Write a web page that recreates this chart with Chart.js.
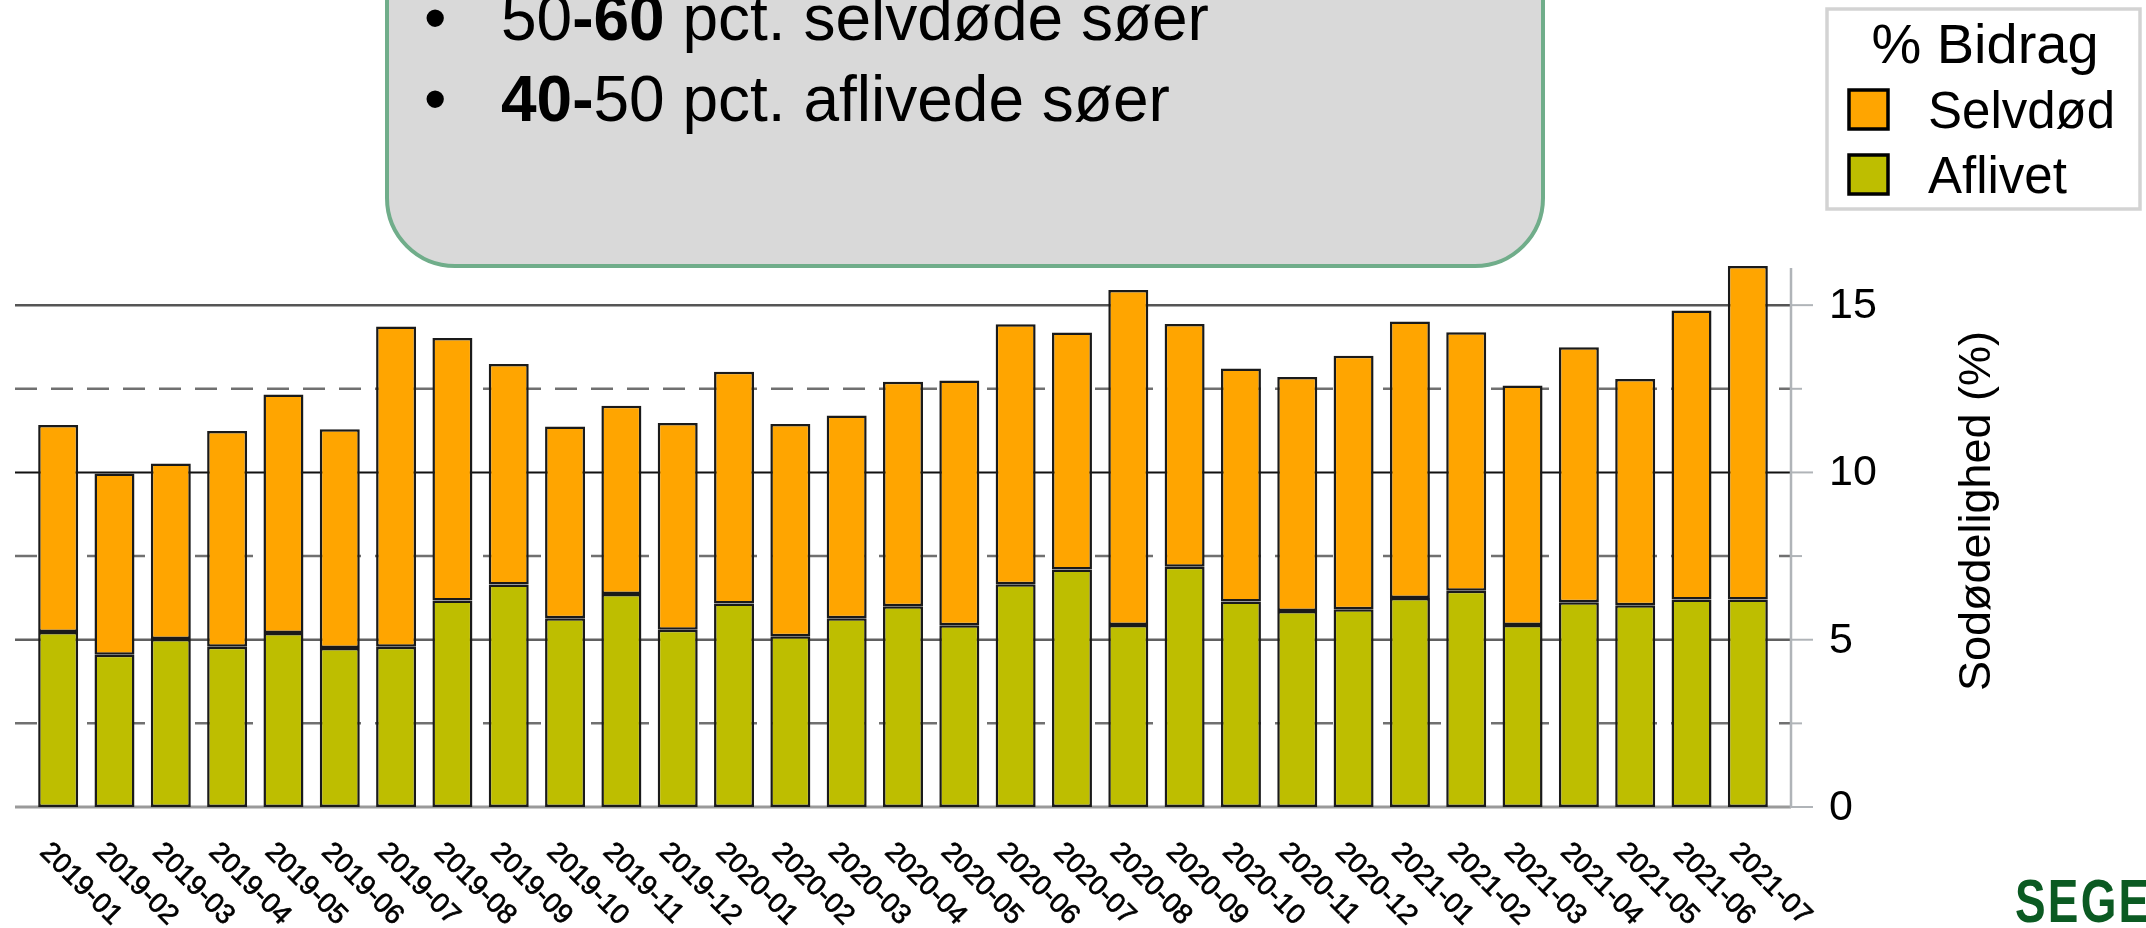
<!DOCTYPE html>
<html>
<head>
<meta charset="utf-8">
<script src="https://cdn.jsdelivr.net/npm/chart.js@4.4.0/dist/chart.umd.min.js"></script>
<style>
  html, body { margin: 0; padding: 0; background: #ffffff; overflow: hidden; }
  canvas { display: block; }
</style>
</head>
<body>
<canvas id="c" width="2146" height="928"></canvas>
<script>
// ---- data ----
const months = ["2019-01","2019-02","2019-03","2019-04","2019-05","2019-06","2019-07","2019-08","2019-09","2019-10","2019-11","2019-12",
                "2020-01","2020-02","2020-03","2020-04","2020-05","2020-06","2020-07","2020-08","2020-09","2020-10","2020-11","2020-12",
                "2021-01","2021-02","2021-03","2021-04","2021-05","2021-06","2021-07"];
// bottom segment (Aflivet), % points
const aflivet = [5.23,4.55,5.02,4.79,5.20,4.75,4.79,6.17,6.65,5.64,6.37,5.30,
                 6.08,5.10,5.64,6.00,5.43,6.66,7.10,5.44,7.18,6.14,5.86,5.91,
                 6.25,6.46,5.44,6.12,6.03,6.20,6.20];
// top segment (Selvdød), % points
const selvdod = [6.19,5.42,5.25,6.45,7.13,6.54,9.57,7.85,6.59,5.73,5.62,6.18,
                 6.93,6.35,6.06,6.71,7.32,7.77,7.08,10.01,7.26,6.97,6.99,7.58,
                 8.26,7.73,7.16,7.62,6.76,8.64,9.97];
const yTicks = [0, 5, 10, 15];
const yMinorTicks = [2.5, 7.5, 12.5];
const yTitle = "Sodødelighed (%)";
const legendTitle = "% Bidrag";
const legendItems = ["Selvdød", "Aflivet"];

const ORANGE = "#ffa500";
const OLIVE = "#bebe00";
const FONT = "'Liberation Sans', Arial, sans-serif";

const GRID_LEFT = 15;
const AXIS_X = 1791;

const decorPlugin = {
  id: "decor",
  beforeDatasetsDraw(chart) {
    const ctx = chart.ctx, y = chart.scales.y;
    ctx.save();
    const lines = [
      {v: 15, dash: [], color: "#555555", w: 2.5},
      {v: 12.5, dash: [22, 14], color: "#707070", w: 2.5},
      {v: 10, dash: [], color: "#111111", w: 2},
      {v: 7.5, dash: [22, 14], color: "#707070", w: 2.5},
      {v: 5, dash: [], color: "#606060", w: 2.5},
      {v: 2.5, dash: [22, 14], color: "#707070", w: 2.5}
    ];
    for (const l of lines) {
      const py = y.getPixelForValue(l.v);
      ctx.beginPath();
      ctx.setLineDash(l.dash);
      ctx.strokeStyle = l.color;
      ctx.lineWidth = l.w;
      ctx.moveTo(GRID_LEFT, py);
      ctx.lineTo(AXIS_X, py);
      ctx.stroke();
    }
    ctx.setLineDash([]);
    const p0 = y.getPixelForValue(0);
    ctx.beginPath();
    ctx.strokeStyle = "#9a9a9a";
    ctx.lineWidth = 3;
    ctx.moveTo(GRID_LEFT, p0);
    ctx.lineTo(AXIS_X, p0);
    ctx.stroke();
    ctx.restore();
  },
  afterDatasetsDraw(chart) {
    const ctx = chart.ctx, y = chart.scales.y, x = chart.scales.x;
    ctx.save();
    // right axis line and ticks
    ctx.strokeStyle = "#b0b4b8";
    ctx.lineWidth = 2.5;
    ctx.beginPath();
    ctx.moveTo(AXIS_X, 268);
    ctx.lineTo(AXIS_X, y.getPixelForValue(0) + 1);
    ctx.stroke();
    ctx.lineWidth = 2;
    for (const t of yTicks) {
      const py = y.getPixelForValue(t);
      ctx.beginPath(); ctx.moveTo(AXIS_X, py); ctx.lineTo(1813, py); ctx.stroke();
    }
    for (const t of yMinorTicks) {
      const py = y.getPixelForValue(t);
      ctx.beginPath(); ctx.moveTo(AXIS_X, py); ctx.lineTo(1802, py); ctx.stroke();
    }
    ctx.fillStyle = "#000";
    ctx.font = "43px " + FONT;
    ctx.textAlign = "left";
    ctx.textBaseline = "middle";
    for (const t of yTicks) {
      ctx.fillText(String(t), 1829, y.getPixelForValue(t) + 1);
    }
    // axis title
    ctx.save();
    ctx.translate(1978, 511);
    ctx.rotate(-Math.PI / 2);
    ctx.font = "45px " + FONT;
    ctx.textAlign = "center";
    ctx.textBaseline = "middle";
    ctx.fillText(yTitle, 0, 0);
    ctx.restore();
    // x labels rotated clockwise
    ctx.font = "28px " + FONT;
    ctx.textAlign = "left";
    ctx.textBaseline = "top";
    ctx.strokeStyle = "#000";
    ctx.lineWidth = 0.7;
    months.forEach((m, i) => {
      const px = x.getPixelForTick(i);
      ctx.save();
      ctx.translate(px - 4, 838);
      ctx.rotate(Math.PI / 4);
      ctx.fillText(m, 0, 0);
      ctx.strokeText(m, 0, 0);
      ctx.restore();
    });

    // ---- annotation box ----
    ctx.beginPath();
    ctx.roundRect(387, -200, 1156, 466, 68);
    ctx.fillStyle = "#d9d9d9";
    ctx.fill();
    ctx.strokeStyle = "#70ad8a";
    ctx.lineWidth = 4;
    ctx.stroke();
    const drawRuns = (runs, x0, by) => {
      let cx = x0;
      for (const r of runs) {
        ctx.font = (r.b ? "bold " : "") + "64px " + FONT;
        ctx.fillText(r.t, cx, by);
        cx += ctx.measureText(r.t).width;
      }
    };
    ctx.fillStyle = "#000";
    ctx.textBaseline = "alphabetic";
    ctx.textAlign = "left";
    ctx.font = "64px " + FONT;
    ctx.fillText("\u2022", 424, 40);
    ctx.fillText("\u2022", 424, 121);
    drawRuns([{t: "50"}, {t: "-60", b: true}, {t: " pct. selvdøde søer"}], 501, 40);
    drawRuns([{t: "40-", b: true}, {t: "50 pct. aflivede søer"}], 501, 121);

    // ---- legend ----
    ctx.strokeStyle = "#d3d3d3";
    ctx.lineWidth = 3.5;
    ctx.strokeRect(1827, 9, 313, 200);
    ctx.fillStyle = "#000";
    ctx.font = "56px " + FONT;
    ctx.textAlign = "center";
    ctx.fillText(legendTitle, 1985, 63);
    const sw = [ORANGE, OLIVE];
    const sy = [90, 155];
    const by = [128, 193];
    ctx.textAlign = "left";
    ctx.font = "51px " + FONT;
    for (let i = 0; i < 2; i++) {
      ctx.fillStyle = sw[i];
      ctx.fillRect(1849, sy[i], 39, 39);
      ctx.strokeStyle = "#000";
      ctx.lineWidth = 3.5;
      ctx.strokeRect(1849, sy[i], 39, 39);
      ctx.fillStyle = "#000";
      ctx.fillText(legendItems[i], 1928, by[i]);
    }

    // ---- logo text (cut at right edge) ----
    ctx.save();
    ctx.translate(2015, 922);
    ctx.scale(0.74, 1);
    ctx.letterSpacing = "3px";
    ctx.fillStyle = "#0b5a22";
    ctx.font = "bold 62px " + FONT;
    ctx.fillText("SEGES", 0, 0);
    ctx.restore();

    ctx.restore();
  }
};

new Chart(document.getElementById("c"), {
  type: "bar",
  data: {
    labels: months,
    datasets: [
      {label: "Aflivet", data: aflivet, backgroundColor: OLIVE, borderColor: "#1a1a1a", borderWidth: 2.5, borderSkipped: false, stack: "s"},
      {label: "Selvdød", data: selvdod, backgroundColor: ORANGE, borderColor: "#1a1a1a", borderWidth: 2.5, borderSkipped: false, stack: "s"}
    ]
  },
  options: {
    responsive: false,
    animation: false,
    layout: {padding: {left: 30, right: 370, top: 265, bottom: 121}},
    datasets: {bar: {categoryPercentage: 1.0, barPercentage: 0.71}},
    scales: {
      x: {stacked: true, display: false, offset: true, grid: {display: false}},
      y: {stacked: true, display: false, min: 0, max: 16.2}
    },
    plugins: {legend: {display: false}, tooltip: {enabled: false}}
  },
  plugins: [decorPlugin]
});
</script>
</body>
</html>
